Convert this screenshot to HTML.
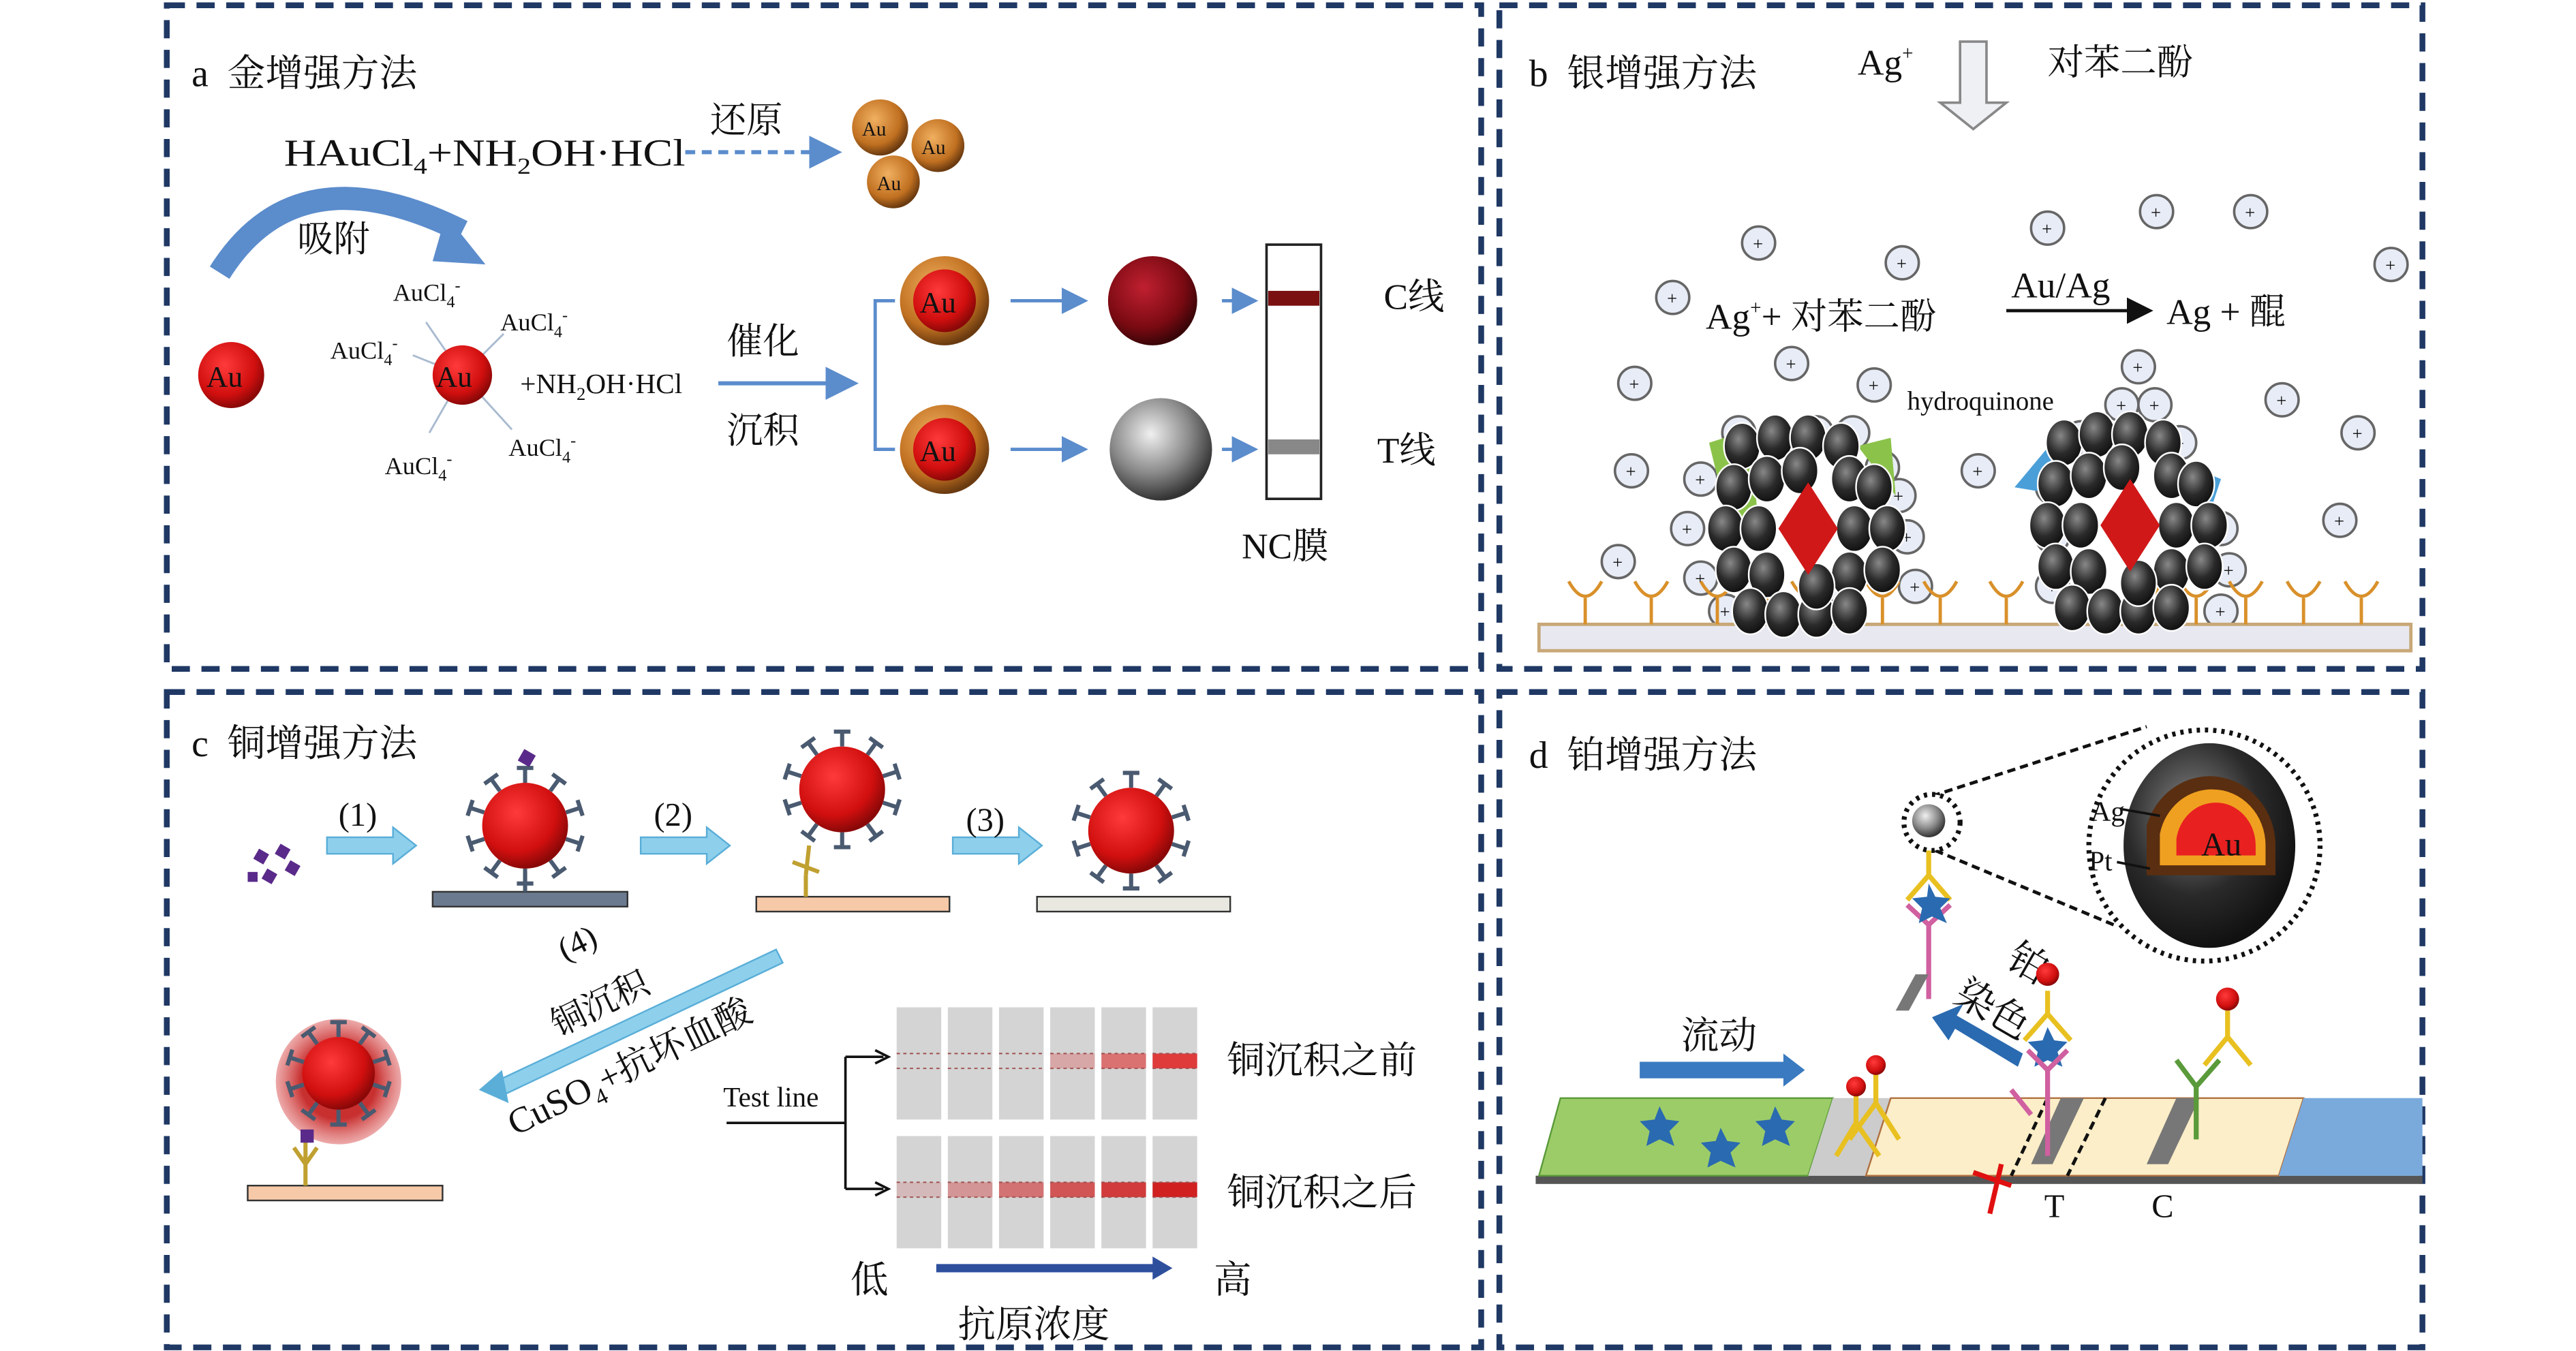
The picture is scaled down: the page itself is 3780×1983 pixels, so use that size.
<!DOCTYPE html>
<html><head><meta charset="utf-8"><style>
html,body{margin:0;padding:0;background:#fff;width:3780px;height:1983px;overflow:hidden}
svg{display:block}
text{font-family:"Liberation Serif","Noto Serif CJK SC",serif;fill:#111}
</style></head><body>
<svg id="s" width="3780" height="1983" viewBox="0 0 1560 818" xmlns="http://www.w3.org/2000/svg">
<defs>
<radialGradient id="red" cx="40%" cy="35%" r="65%"><stop offset="0" stop-color="#ff3a3a"/><stop offset="0.7" stop-color="#d10f0f"/><stop offset="1" stop-color="#8a0808"/></radialGradient>
<radialGradient id="gold" cx="40%" cy="35%" r="65%"><stop offset="0" stop-color="#f0b060"/><stop offset="0.7" stop-color="#c07020"/><stop offset="1" stop-color="#6a3a10"/></radialGradient>
<radialGradient id="dred" cx="40%" cy="35%" r="65%"><stop offset="0" stop-color="#c02030"/><stop offset="0.7" stop-color="#7a0a12"/><stop offset="1" stop-color="#3a0508"/></radialGradient>
<radialGradient id="grey" cx="40%" cy="35%" r="65%"><stop offset="0" stop-color="#f0f0f0"/><stop offset="0.6" stop-color="#888"/><stop offset="1" stop-color="#333"/></radialGradient>
<radialGradient id="blk" cx="40%" cy="35%" r="65%"><stop offset="0" stop-color="#888"/><stop offset="0.6" stop-color="#2a2a2a"/><stop offset="1" stop-color="#111"/></radialGradient>
<radialGradient id="halo" cx="50%" cy="50%" r="50%"><stop offset="0.6" stop-color="#c83030"/><stop offset="1" stop-color="#e07070" stop-opacity="0.6"/></radialGradient>
<marker id="ah" markerWidth="8" markerHeight="8" refX="6" refY="4" orient="auto"><path d="M0,0 L8,4 L0,8 z" fill="#5b8ccc"/></marker>
<marker id="ak" markerWidth="8" markerHeight="8" refX="6" refY="4" orient="auto"><path d="M0,0 L8,4 L0,8 z" fill="#111"/></marker>
</defs>
<g fill="none" stroke="#1f3864" stroke-width="3.5" stroke-dasharray="11,7">
<rect x="101" y="3" width="796" height="402"/>
<rect x="908" y="3" width="559" height="402"/>
<rect x="101" y="419" width="796" height="397"/>
<rect x="908" y="419" width="559" height="397"/>
</g>
<!-- Panel a -->
<text x="116" y="52" font-size="23" xml:space="preserve">a  金增强方法</text>
<text x="172" y="100" font-size="23" textLength="243" lengthAdjust="spacingAndGlyphs">HAuCl<tspan font-size="14" dy="5">4</tspan><tspan dy="-5">+NH</tspan><tspan font-size="14" dy="5">2</tspan><tspan dy="-5">OH·HCl</tspan></text>
<line x1="415" y1="92" x2="505" y2="92" stroke="#5b8ccc" stroke-width="2.5" stroke-dasharray="6,4" marker-end="url(#ah)"/>
<text x="430" y="80" font-size="22">还原</text>
<circle cx="533" cy="77" r="17" fill="url(#gold)"/><text x="522" y="82" font-size="12">Au</text>
<circle cx="568" cy="88" r="16" fill="url(#gold)"/><text x="558" y="93" font-size="12">Au</text>
<circle cx="541" cy="110" r="16" fill="url(#gold)"/><text x="531" y="115" font-size="12">Au</text>
<path d="M133,165 Q180,90 280,140" fill="none" stroke="#5b8ccc" stroke-width="14"/>
<path d="M270,130 L294,160 L262,158 z" fill="#5b8ccc"/>
<text x="180" y="152" font-size="22">吸附</text>
<circle cx="140" cy="227" r="20" fill="url(#red)"/><text x="125" y="234" font-size="18">Au</text>
<g stroke="#aabbd0" stroke-width="1.2"><line x1="280" y1="227" x2="258" y2="195"/><line x1="280" y1="227" x2="305" y2="202"/><line x1="280" y1="227" x2="250" y2="215"/><line x1="280" y1="227" x2="260" y2="262"/><line x1="280" y1="227" x2="310" y2="260"/></g>
<circle cx="280" cy="227" r="18" fill="url(#red)"/><text x="264" y="234" font-size="18">Au</text>
<g font-size="15"><text x="238" y="182">AuCl<tspan font-size="10" dy="4">4</tspan><tspan font-size="10" dy="-10">-</tspan></text>
<text x="303" y="200">AuCl<tspan font-size="10" dy="4">4</tspan><tspan font-size="10" dy="-10">-</tspan></text>
<text x="200" y="217">AuCl<tspan font-size="10" dy="4">4</tspan><tspan font-size="10" dy="-10">-</tspan></text>
<text x="233" y="287">AuCl<tspan font-size="10" dy="4">4</tspan><tspan font-size="10" dy="-10">-</tspan></text>
<text x="308" y="276">AuCl<tspan font-size="10" dy="4">4</tspan><tspan font-size="10" dy="-10">-</tspan></text>
<text x="315" y="238" font-size="17">+NH<tspan font-size="11" dy="4">2</tspan><tspan dy="-4">OH·HCl</tspan></text></g>
<line x1="435" y1="232" x2="515" y2="232" stroke="#5b8ccc" stroke-width="2.5" marker-end="url(#ah)"/>
<text x="440" y="214" font-size="22">催化</text><text x="440" y="268" font-size="22">沉积</text>
<path d="M542,182 H530 V272 H542" fill="none" stroke="#5b8ccc" stroke-width="2"/>
<circle cx="572" cy="182" r="27" fill="url(#gold)"/><circle cx="572" cy="182" r="19" fill="url(#red)"/><text x="557" y="189" font-size="18">Au</text>
<circle cx="572" cy="272" r="27" fill="url(#gold)"/><circle cx="572" cy="272" r="19" fill="url(#red)"/><text x="557" y="279" font-size="18">Au</text>
<line x1="612" y1="182" x2="655" y2="182" stroke="#5b8ccc" stroke-width="2" marker-end="url(#ah)"/>
<line x1="612" y1="272" x2="655" y2="272" stroke="#5b8ccc" stroke-width="2" marker-end="url(#ah)"/>
<circle cx="698" cy="182" r="27" fill="url(#dred)"/>
<circle cx="703" cy="272" r="31" fill="url(#grey)"/>
<line x1="740" y1="182" x2="758" y2="182" stroke="#5b8ccc" stroke-width="2" marker-end="url(#ah)"/>
<line x1="740" y1="272" x2="758" y2="272" stroke="#5b8ccc" stroke-width="2" marker-end="url(#ah)"/>
<rect x="767" y="148" width="33" height="154" fill="#fff" stroke="#222" stroke-width="1.5"/>
<rect x="768" y="176" width="31" height="9" fill="#7a1010"/>
<rect x="768" y="266" width="31" height="9" fill="#888"/>
<text x="838" y="187" font-size="22">C线</text><text x="834" y="280" font-size="22">T线</text><text x="752" y="338" font-size="22">NC膜</text>
<!-- Panel b -->
<text x="926" y="52" font-size="23" xml:space="preserve">b  银增强方法</text>
<text x="1125" y="45" font-size="22">Ag<tspan font-size="12" dy="-9">+</tspan></text>
<path d="M1187,25 H1203 V62 H1215 L1195,78 L1175,62 H1187 z" fill="#eef0f4" stroke="#888" stroke-width="1.5"/>
<text x="1240" y="45" font-size="22">对苯二酚</text>
<text x="1033" y="199" font-size="22">Ag<tspan font-size="12" dy="-9">+</tspan><tspan dy="9">+ 对苯二酚</tspan></text>
<line x1="1215" y1="188" x2="1300" y2="188" stroke="#111" stroke-width="2" marker-end="url(#ak)"/>
<text x="1218" y="180" font-size="22">Au/Ag</text>
<text x="1312" y="196" font-size="22">Ag + 醌</text>
<text x="1155" y="248" font-size="16">hydroquinone</text>
<g id="ions"></g>
<rect x="932" y="378" width="528" height="16" fill="#e8e8f0" stroke="#c8a878" stroke-width="2"/>
<g id="abs" stroke="#d9902a" stroke-width="2" fill="none"></g>
<path d="M1035,268 L1060,260 L1065,320 L1050,330 z" fill="#8bc34a"/>
<path d="M1125,270 L1145,265 L1148,300 z" fill="#8bc34a"/>
<path d="M1220,295 L1245,265 L1250,300 z" fill="#4b9fd8"/>
<path d="M1320,280 L1345,290 L1335,320 z" fill="#4b9fd8"/>
<g id="cl"></g>
<!-- Panel c -->
<text x="116" y="458" font-size="23" xml:space="preserve">c  铜增强方法</text>
<g fill="#5a2a8a"><rect x="155" y="515" width="7" height="7" transform="rotate(30 158 518)"/><rect x="168" y="512" width="7" height="7" transform="rotate(30 171 515)"/><rect x="160" y="527" width="7" height="7" transform="rotate(30 163 530)"/><rect x="174" y="522" width="7" height="7" transform="rotate(30 177 525)"/><rect x="150" y="528" width="6" height="6"/></g>
<g fill="#8ed0ec" stroke="#5aaed8" stroke-width="1">
<path d="M198,507 H238 V501 L252,512 L238,523 V517 H198 z"/>
<path d="M388,507 H428 V501 L442,512 L428,523 V517 H388 z"/>
<path d="M577,507 H617 V501 L631,512 L617,523 V517 H577 z"/></g>
<text x="205" y="500" font-size="20">(1)</text><text x="396" y="500" font-size="20">(2)</text><text x="585" y="503" font-size="20">(3)</text>
<rect x="262" y="540" width="118" height="9" fill="#6c7a90" stroke="#333" stroke-width="1"/>
<rect x="458" y="543" width="117" height="9" fill="#f6c9a8" stroke="#333" stroke-width="1"/>
<rect x="628" y="543" width="117" height="9" fill="#e8e8e0" stroke="#333" stroke-width="1"/>
<rect x="150" y="718" width="118" height="9" fill="#f6c9a8" stroke="#333" stroke-width="1"/>
<circle cx="205" cy="655" r="38" fill="url(#halo)"/>
<g id="nps"></g>
<path d="M300,655 L470,575 L474,583 L305,663 z" fill="#8ed0ec" stroke="#5aaed8"/>
<path d="M290,660 L304,648 L308,668 z" fill="#5aaed8"/>
<text font-size="20" transform="translate(342,582) rotate(-26)">(4)</text>
<text font-size="21" transform="translate(338,628) rotate(-26)">铜沉积</text>
<text font-size="22" transform="translate(312,688) rotate(-26)">CuSO<tspan font-size="14" dy="6">4</tspan><tspan dy="-6">+抗坏血酸</tspan></text>
<text x="438" y="670" font-size="17">Test line</text>
<path d="M440,680 H512 M512,640 V720 M512,640 H535 M512,720 H535" stroke="#111" stroke-width="1.5" fill="none"/>
<path d="M530,636 L538,640 L530,644 M530,716 L538,720 L530,724" stroke="#111" stroke-width="1.5" fill="none"/>
<g id="strips"></g>
<text x="743" y="650" font-size="23">铜沉积之前</text><text x="743" y="730" font-size="23">铜沉积之后</text>
<text x="515" y="783" font-size="23">低</text><text x="735" y="783" font-size="23">高</text>
<line x1="567" y1="768" x2="700" y2="768" stroke="#2e4f9c" stroke-width="5"/><path d="M698,761 L710,768 L698,775 z" fill="#2e4f9c"/>
<text x="580" y="810" font-size="23">抗原浓度</text>
<!-- Panel d -->
<text x="926" y="465" font-size="23" xml:space="preserve">d  铂增强方法</text>
<path d="M1170,482 L1300,440 M1172,515 L1280,560" stroke="#111" stroke-width="2" stroke-dasharray="5,3"/>
<circle cx="1170" cy="498" r="17" fill="#fff" stroke="#111" stroke-width="3" stroke-dasharray="2,3"/>
<circle cx="1168" cy="497" r="10" fill="url(#grey)"/>
<circle cx="1335" cy="512" r="70" fill="#fff" stroke="#111" stroke-width="3" stroke-dasharray="2,3"/>
<ellipse cx="1338" cy="512" rx="52" ry="62" fill="url(#blk)"/>
<path d="M1338,470 A40,42 0 0 1 1378,512 L1378,530 L1300,530 L1300,500 A40,42 0 0 1 1338,470 z" fill="#5a2e10"/>
<path d="M1340,478 A32,34 0 0 1 1372,512 V524 H1308 V505 A32,34 0 0 1 1340,478 z" fill="#f0a020"/>
<path d="M1342,486 A24,26 0 0 1 1366,512 V518 H1318 V508 A24,26 0 0 1 1342,486 z" fill="#e82020"/>
<text x="1333" y="518" font-size="20">Au</text>
<text x="1266" y="497" font-size="17">Ag</text><text x="1265" y="527" font-size="17">Pt</text>
<path d="M1285,490 L1308,494 M1282,522 L1302,526" stroke="#111" stroke-width="1.5"/>
<g stroke="#e8c020" stroke-width="3" fill="none"><path d="M1168,515 V530 M1168,530 L1155,545 M1168,530 L1181,545"/></g>
<g stroke="#d060a0" stroke-width="3" fill="none"><path d="M1168,560 L1155,548 M1168,560 L1181,548 M1168,560 V605"/></g>
<path d="M1168,535 l4,8 9,1 -6,6 4,9 -9,-4 -8,4 2,-9 -6,-6 9,-1 z" fill="#2a6ab0"/>
<path d="M1148,612 L1160,590 L1168,590 L1156,612 z" fill="#777"/>
<path d="M1225,638 L1185,615 L1189,608 L1170,616 L1180,630 L1184,623 L1222,646 z" fill="#2a6ab0"/>
<text x="1215" y="590" font-size="24" transform="rotate(30 1225 585)">铂</text>
<text x="1185" y="615" font-size="24" transform="rotate(30 1200 605)">染色</text>
<text x="1018" y="635" font-size="23">流动</text>
<path d="M993,643 H1080 V638 L1093,648 L1080,658 V653 H993 z" fill="#3a7ac0"/>
<rect x="930" y="712" width="537" height="5" fill="#555"/>
<path d="M945,665 H1110 L1095,712 H932 z" fill="#9ccc68" stroke="#5a9a3a"/>
<path d="M1110,665 H1145 L1130,712 H1095 z" fill="#ccc"/>
<path d="M1145,665 H1395 L1380,712 H1130 z" fill="#fbeec8" stroke="#b07040"/>
<path d="M1395,665 H1467 V712 H1380 z" fill="#7aaadc"/>
<path d="M1248,665 H1262 L1243,705 H1230 z" fill="#777"/>
<path d="M1318,665 H1332 L1313,705 H1300 z" fill="#777"/>
<path d="M1240,665 L1218,712 M1275,665 L1252,712" stroke="#111" stroke-width="2" stroke-dasharray="5,3"/>
<g fill="#2a6ab0"><path d="M1005,670 l4,8 8,1 -6,6 3,9 -9,-4 -8,4 2,-9 -6,-6 9,-1 z"/><path d="M1042,683 l4,8 8,1 -6,6 3,9 -9,-4 -8,4 2,-9 -6,-6 9,-1 z"/><path d="M1075,670 l4,8 8,1 -6,6 3,9 -9,-4 -8,4 2,-9 -6,-6 9,-1 z"/><path d="M1240,622 l4,8 8,1 -6,6 3,9 -9,-4 -8,4 2,-9 -6,-6 9,-1 z"/></g>
<g stroke="#e8c020" stroke-width="3" fill="none"><path d="M1136,648 V668 L1120,690 M1136,668 L1150,690 M1124,660 V680 L1112,700 M1124,680 L1138,700 M1240,600 V614 L1226,630 M1240,614 L1254,630 M1349,612 V628 L1335,645 M1349,628 L1363,645"/></g>
<g stroke="#d060a0" stroke-width="3" fill="none"><path d="M1240,648 L1228,636 M1240,648 L1252,636 M1240,648 V700 M1230,675 L1218,660"/></g>
<g stroke="#5a9a3a" stroke-width="3" fill="none"><path d="M1330,658 L1318,642 M1330,658 L1344,642 M1330,658 V690"/></g>
<g fill="url(#red)"><circle cx="1136" cy="645" r="6"/><circle cx="1124" cy="658" r="6"/><circle cx="1240" cy="590" r="7"/><circle cx="1349" cy="605" r="7"/></g>
<path d="M1212,705 L1205,735 M1195,710 L1218,718" stroke="#e01010" stroke-width="3" fill="none"/>
<text x="1238" y="737" font-size="20">T</text><text x="1303" y="737" font-size="20">C</text>
</svg>
<script>
var NS="http://www.w3.org/2000/svg";
function el(p,t,a){var e=document.createElementNS(NS,t);for(var k in a)e.setAttribute(k,a[k]);document.getElementById(p).appendChild(e);return e;}
var ions=[[1013,180],[1065,147],[1152,159],[1240,138],[1306,128],[1363,128],[1448,160],[990,232],[1085,220],[1135,233],[1295,222],[1382,242],[1428,262],[988,285],[1198,285],[1417,315],[980,340],[1053,262],[1075,262],[1100,262],[1122,262],[1140,283],[1030,290],[1022,320],[1030,350],[1045,370],[1150,300],[1155,325],[1160,355],[1110,365],[1260,265],[1285,245],[1305,245],[1320,268],[1243,295],[1243,325],[1243,355],[1345,320],[1350,345],[1345,370]];
ions.forEach(function(p){el("ions","circle",{cx:p[0],cy:p[1],r:10,fill:"#e8ecf6",stroke:"#666","stroke-width":1.5});el("ions","text",{x:p[0]-3.5,y:p[1]+4,"font-size":11}).textContent="+";});
[960,1000,1040,1070,1095,1140,1175,1215,1260,1300,1330,1360,1395,1430].forEach(function(x){el("abs","path",{d:"M"+(x-10)+",352 Q"+x+",370 "+(x+10)+",352 M"+x+",362 V378"});});
function cluster(cx,cy){var pts=[[-40,-50],[-20,-55],[0,-55],[20,-50],[-45,-25],[-25,-30],[25,-30],[40,-25],[-50,0],[-30,0],[28,0],[48,0],[-45,25],[-25,28],[25,28],[45,25],[-35,50],[-15,52],[5,52],[25,50],[-5,-35],[5,35]];pts.forEach(function(p){el("cl","ellipse",{cx:cx+p[0],cy:cy+p[1],rx:11,ry:14,fill:"url(#blk)",stroke:"#fff","stroke-width":1});});el("cl","path",{d:"M"+cx+","+(cy-28)+" L"+(cx+18)+","+cy+" L"+cx+","+(cy+28)+" L"+(cx-18)+","+cy+" z",fill:"#d01818"});}
cluster(1095,320);cluster(1290,318);
function np(cx,cy,r,n){var g="nps";for(var i=0;i<n;i++){var a=-Math.PI/2+i*2*Math.PI/n;var x1=cx+Math.cos(a)*r,y1=cy+Math.sin(a)*r,x2=cx+Math.cos(a)*(r+9),y2=cy+Math.sin(a)*(r+9);el(g,"line",{x1:x1,y1:y1,x2:x2,y2:y2,stroke:"#4a5a70","stroke-width":2.5});var px=-Math.sin(a)*5,py=Math.cos(a)*5;el(g,"path",{d:"M"+(x2+px)+","+(y2+py)+" L"+(x2-px)+","+(y2-py),stroke:"#4a5a70","stroke-width":2.5});}el(g,"circle",{cx:cx,cy:cy,r:r,fill:"url(#red)"});}
np(318,500,26,10);np(510,478,26,10);np(685,503,26,10);np(205,650,22,10);
el("nps","path",{d:"M318,528 V540",stroke:"#4a5a70","stroke-width":2.5});
el("nps","path",{d:"M490,512 L488,530 M480,522 L496,528 M488,530 V543",stroke:"#c0a030","stroke-width":2.5,fill:"none"});
el("nps","path",{d:"M185,690 V718 M178,695 L185,705 L192,695",stroke:"#c0a030","stroke-width":2.5,fill:"none"});
el("nps","rect",{x:182,y:684,width:8,height:8,fill:"#5a2a8a"});el("nps","rect",{x:315,y:455,width:8,height:8,fill:"#5a2a8a",transform:"rotate(30 319 459)"});
var red1=[0,0,0,0.25,0.55,0.85],red2=[0.15,0.35,0.55,0.7,0.85,1];
for(var i=0;i<6;i++){var x=543+i*31;el("strips","rect",{x:x,y:610,width:27,height:68,fill:"#d4d4d4"});el("strips","rect",{x:x,y:688,width:27,height:68,fill:"#d4d4d4"});
el("strips","rect",{x:x,y:638,width:27,height:9,fill:"#e02020","fill-opacity":red1[i]});el("strips","rect",{x:x,y:716,width:27,height:9,fill:"#d02020","fill-opacity":red2[i]});
el("strips","path",{d:"M"+x+",638 h27 M"+x+",647 h27 M"+x+",716 h27 M"+x+",725 h27",stroke:"#a05050","stroke-width":0.8,"stroke-dasharray":"2,2"});}
</script>
</body></html>
